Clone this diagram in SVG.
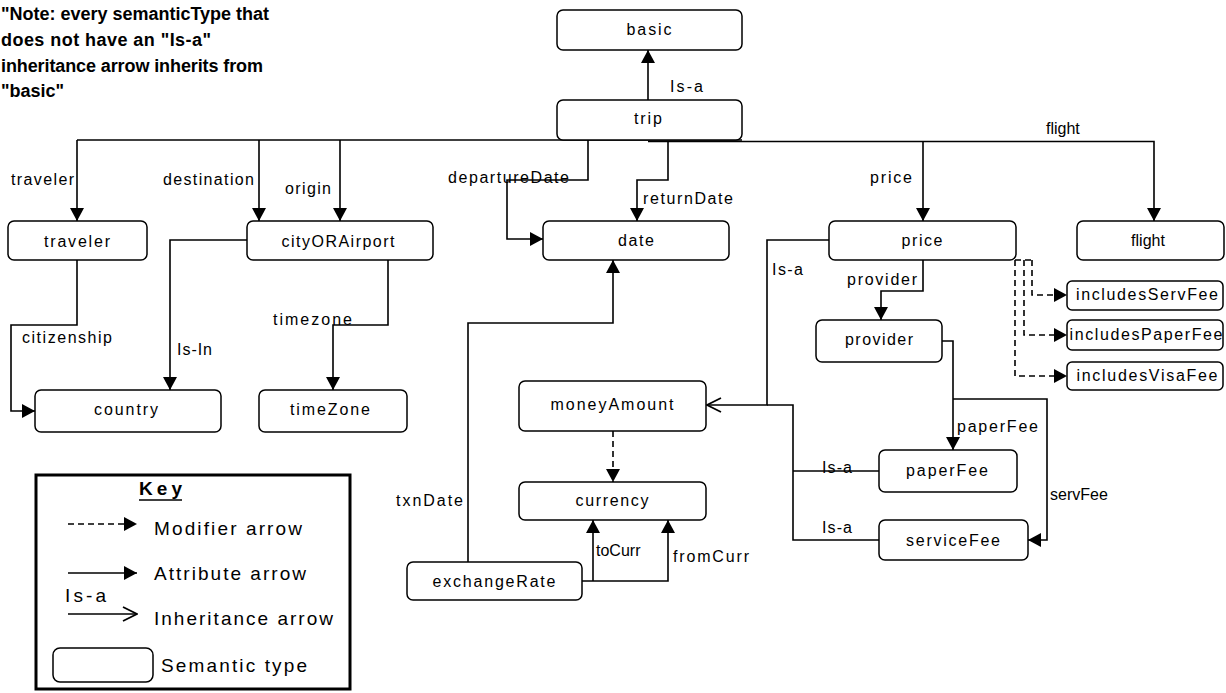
<svg xmlns="http://www.w3.org/2000/svg" width="1226" height="693" viewBox="0 0 1226 693">
<defs>
<style>
text{font-family:"Liberation Sans",Arial,sans-serif;fill:#000}
.node rect{fill:#fff;stroke:#000;stroke-width:1.5}
.nl{font-size:16px;text-anchor:middle}
.el{font-size:16px}
.kl{font-size:19px}
.note{font-size:18px;font-weight:bold}
.c{fill:none;stroke:#000;stroke-width:1.6}
.d{stroke-dasharray:6,4}
</style>
<marker id="af" markerUnits="userSpaceOnUse" viewBox="0 0 13 14" refX="13" refY="7" markerWidth="13" markerHeight="14" orient="auto">
<path d="M0,0 L13,7 L0,14 z" fill="#000"/>
</marker>
<marker id="ao" markerUnits="userSpaceOnUse" viewBox="0 0 16 16" refX="15" refY="8" markerWidth="16" markerHeight="16" orient="auto">
<path d="M1,1 L15,8 L1,15" fill="none" stroke="#000" stroke-width="1.8"/>
</marker>
</defs>
<rect width="1226" height="693" fill="#fff"/>

<g id="note">
<text class="note" x="1" y="20" textLength="268" lengthAdjust="spacing">"Note: every semanticType that</text>
<text class="note" x="1" y="46" textLength="210" lengthAdjust="spacing">does not have an "Is-a"</text>
<text class="note" x="1" y="72" textLength="262" lengthAdjust="spacing">inheritance arrow inherits from</text>
<text class="note" x="1" y="97">"basic"</text>
</g>

<g id="connectors">
<path class="c" d="M648,100 V50" marker-end="url(#af)"/>
<text class="el" x="670" y="92" textLength="33" lengthAdjust="spacing">Is-a</text>
<path class="c" d="M77,140 H742"/>
<path class="c" d="M77,140 V221" marker-end="url(#af)"/>
<path class="c" d="M259,140 V221" marker-end="url(#af)"/>
<path class="c" d="M340,140 V221" marker-end="url(#af)"/>
<path class="c" d="M588,140 V180 H507 V239 H543" marker-end="url(#af)"/>
<path class="c" d="M668,141 V180 H637 V221" marker-end="url(#af)"/>
<path class="c" d="M648,141.5 H1154 V221" stroke-width="2.2" marker-end="url(#af)"/>
<path class="c" d="M923,141.5 V221" marker-end="url(#af)"/>
<path class="c" d="M829,240 H767 V405 H707" marker-end="url(#ao)"/>
<path class="c" d="M879,471 H793"/>
<path class="c" d="M879,540 H793 V405 H767"/>
<path class="c" d="M923,260 V291 H881 V320" marker-end="url(#af)"/>
<path class="c" d="M942,341 H953 V450" marker-end="url(#af)"/>
<path class="c" d="M953,399 H1047 V540 H1028" marker-end="url(#af)"/>
<path class="c d" d="M1015,260 H1032"/>
<path class="c d" d="M1032,260 V295 H1067" marker-end="url(#af)"/>
<path class="c d" d="M1024,260 V335 H1067" marker-end="url(#af)"/>
<path class="c d" d="M1015,260 V376 H1067" marker-end="url(#af)"/>
<path class="c" d="M77,260 V325 H11 V411 H35" marker-end="url(#af)"/>
<path class="c" d="M247,240 H170 V390" marker-end="url(#af)"/>
<path class="c" d="M388,260 V325 H333 V390" marker-end="url(#af)"/>
<path class="c" d="M468,562 V323 H613 V260" marker-end="url(#af)"/>
<path class="c d" d="M613,431 V482" marker-end="url(#af)"/>
<path class="c" d="M582,581 H668 V520" marker-end="url(#af)"/>
<path class="c" d="M593,581 V520" marker-end="url(#af)"/>

<text class="el" x="11" y="185" textLength="63" lengthAdjust="spacing">traveler</text>
<text class="el" x="163" y="185" textLength="91" lengthAdjust="spacing">destination</text>
<text class="el" x="285" y="194" textLength="46" lengthAdjust="spacing">origin</text>
<text class="el" x="448" y="183" textLength="121" lengthAdjust="spacing">departureDate</text>
<text class="el" x="643" y="204" textLength="90" lengthAdjust="spacing">returnDate</text>
<text class="el" x="870" y="183" textLength="42" lengthAdjust="spacing">price</text>
<text class="el" x="1046" y="134">flight</text>
<text class="el" x="772" y="275" textLength="31" lengthAdjust="spacing">Is-a</text>
<text class="el" x="847" y="285" textLength="70" lengthAdjust="spacing">provider</text>
<text class="el" x="22" y="343" textLength="90" lengthAdjust="spacing">citizenship</text>
<text class="el" x="177" y="355" textLength="35" lengthAdjust="spacing">Is-In</text>
<text class="el" x="273" y="325" textLength="79" lengthAdjust="spacing">timezone</text>
<text class="el" x="396" y="506" textLength="67" lengthAdjust="spacing">txnDate</text>
<text class="el" x="596" y="556">toCurr</text>
<text class="el" x="673" y="562" textLength="76" lengthAdjust="spacing">fromCurr</text>
<text class="el" x="957" y="432" textLength="81" lengthAdjust="spacing">paperFee</text>
<text class="el" x="1050" y="500">servFee</text>
<text class="el" x="822" y="473" textLength="30" lengthAdjust="spacing">Is-a</text>
<text class="el" x="822" y="533" textLength="30" lengthAdjust="spacing">Is-a</text>
</g>

<g id="basic" class="node"><rect x="557" y="10" width="185" height="40" rx="6"/><text class="nl" x="649" y="35" textLength="45" lengthAdjust="spacing">basic</text></g>
<g id="trip" class="node"><rect x="557" y="100" width="185" height="40" rx="6"/><text class="nl" x="648" y="124" textLength="28" lengthAdjust="spacing">trip</text></g>
<g id="traveler" class="node"><rect x="8" y="221" width="139" height="39" rx="6"/><text class="nl" x="77" y="247" textLength="66" lengthAdjust="spacing">traveler</text></g>
<g id="cityORAirport" class="node"><rect x="247" y="221" width="186" height="39" rx="6"/><text class="nl" x="338" y="247" textLength="113" lengthAdjust="spacing">cityORAirport</text></g>
<g id="date" class="node"><rect x="543" y="221" width="186" height="39" rx="6"/><text class="nl" x="636" y="246" textLength="36" lengthAdjust="spacing">date</text></g>
<g id="price" class="node"><rect x="829" y="221" width="187" height="39" rx="6"/><text class="nl" x="922" y="246" textLength="41" lengthAdjust="spacing">price</text></g>
<g id="flight" class="node"><rect x="1077" y="221" width="147" height="39" rx="6"/><text class="nl" x="1148" y="246">flight</text></g>
<g id="includesServFee" class="node"><rect x="1067" y="281" width="156" height="29" rx="5"/><text class="nl" x="1147" y="300" textLength="142" lengthAdjust="spacing">includesServFee</text></g>
<g id="includesPaperFee" class="node"><rect x="1067" y="320" width="156" height="30" rx="5"/><text class="nl" x="1146" y="340" textLength="153" lengthAdjust="spacing">includesPaperFee</text></g>
<g id="includesVisaFee" class="node"><rect x="1067" y="362" width="156" height="28" rx="5"/><text class="nl" x="1147" y="381" textLength="141" lengthAdjust="spacing">includesVisaFee</text></g>
<g id="country" class="node"><rect x="35" y="390" width="186" height="42" rx="6"/><text class="nl" x="126" y="415" textLength="64" lengthAdjust="spacing">country</text></g>
<g id="timeZone" class="node"><rect x="259" y="390" width="148" height="42" rx="6"/><text class="nl" x="330" y="415" textLength="80" lengthAdjust="spacing">timeZone</text></g>
<g id="provider" class="node"><rect x="816" y="320" width="126" height="42" rx="6"/><text class="nl" x="879" y="345" textLength="68" lengthAdjust="spacing">provider</text></g>
<g id="paperFee" class="node"><rect x="879" y="450" width="138" height="42" rx="6"/><text class="nl" x="947" y="476" textLength="82" lengthAdjust="spacing">paperFee</text></g>
<g id="serviceFee" class="node"><rect x="879" y="520" width="149" height="40" rx="6"/><text class="nl" x="953" y="546" textLength="94" lengthAdjust="spacing">serviceFee</text></g>
<g id="moneyAmount" class="node"><rect x="519" y="381" width="187" height="50" rx="6"/><text class="nl" x="612" y="410" textLength="123" lengthAdjust="spacing">moneyAmount</text></g>
<g id="currency" class="node"><rect x="519" y="482" width="187" height="38" rx="6"/><text class="nl" x="612" y="506" textLength="73" lengthAdjust="spacing">currency</text></g>
<g id="exchangeRate" class="node"><rect x="407" y="562" width="175" height="38" rx="6"/><text class="nl" x="494" y="587" textLength="123" lengthAdjust="spacing">exchangeRate</text></g>

<g id="key">
<rect x="36" y="475" width="314" height="214" fill="none" stroke="#000" stroke-width="3"/>
<text class="kl" x="139" y="495" font-weight="bold" textLength="43" lengthAdjust="spacing">Key</text>
<line x1="139" y1="500" x2="182" y2="500" stroke="#000" stroke-width="1.5"/>
<path class="c d" d="M68,524 H137" stroke-dasharray="5,3" marker-end="url(#af)"/>
<text class="kl" x="154" y="535" textLength="148" lengthAdjust="spacing">Modifier arrow</text>
<path class="c" d="M68,573 H137" marker-end="url(#af)"/>
<text class="kl" x="154" y="580" textLength="152" lengthAdjust="spacing">Attribute arrow</text>
<text class="kl" x="65" y="602" textLength="41" lengthAdjust="spacing">Is-a</text>
<path class="c" d="M68,614 H137" marker-end="url(#ao)"/>
<text class="kl" x="154" y="625" textLength="179" lengthAdjust="spacing">Inheritance arrow</text>
<rect x="53" y="648" width="100" height="34" rx="7" fill="#fff" stroke="#000" stroke-width="1.5"/>
<text class="kl" x="161" y="672" textLength="146" lengthAdjust="spacing">Semantic type</text>
</g>
</svg>
